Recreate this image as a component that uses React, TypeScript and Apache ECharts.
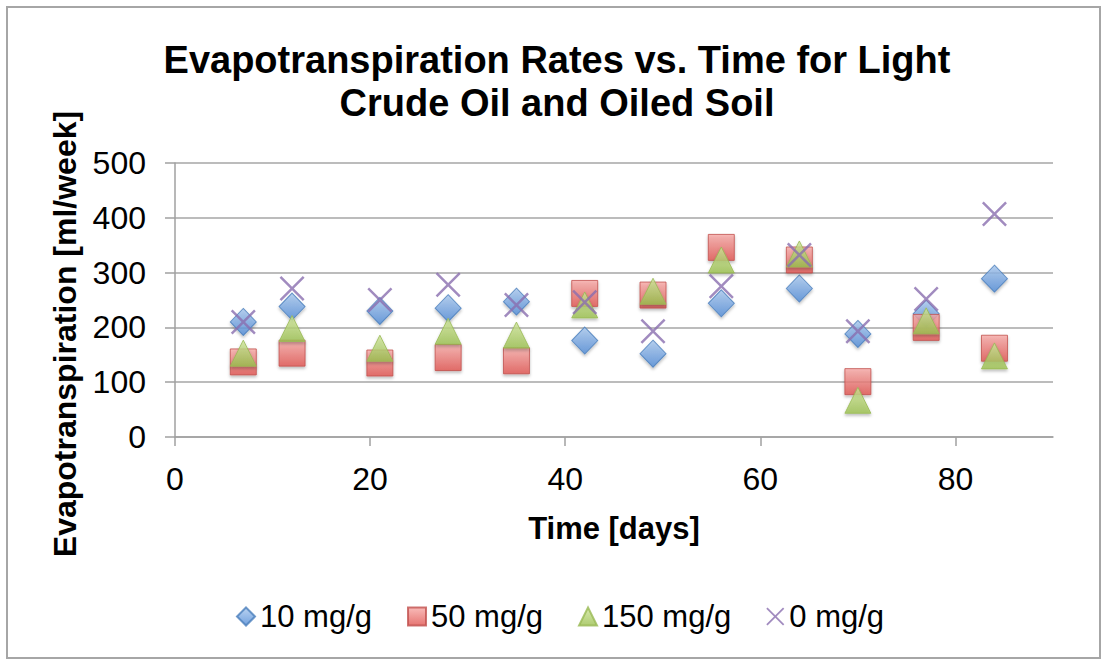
import React, { useEffect, useRef } from "react";
import * as echarts from "echarts";

const titleLines = ["Evapotranspiration Rates vs. Time for Light", "Crude Oil and Oiled Soil"];
const xName = "Time [days]";
const yName = "Evapotranspiration [ml/week]";
const seriesNames = ["10 mg/g", "50 mg/g", "150 mg/g", "0 mg/g"];
const days = [7, 12, 21, 28, 35, 42, 49, 56, 64, 70, 77, 84];
const s10 = [210, 238, 230, 235, 247, 176, 152, 244, 271, 188, 225, 289];
const s50 = [137, 153, 135, 145, 139, 262, 259, 346, 323, 101, 200, 162];
const s150 = [153, 198, 162, 193, 186, 241, 266, 323, 334, 67, 212, 148];
const s0 = [210, 271, 250, 278, 241, 246, 193, 275, 332, 193, 252, 407];

const FONT = "'Liberation Sans', Arial, Helvetica, sans-serif";
const XPATH =
  "path://M0,7 L7,0 L50,43 L93,0 L100,7 L57,50 L100,93 L93,100 L50,57 L7,100 L0,93 L43,50 Z";

const grad = (a: string, b: string) => ({
  type: "linear",
  x: 0,
  y: 0,
  x2: 0,
  y2: 1,
  colorStops: [
    { offset: 0, color: a },
    { offset: 1, color: b },
  ],
});

export default function App() {
  const ref = useRef<HTMLDivElement>(null);
  useEffect(() => {
    if (!ref.current) return;
    const chart = echarts.init(ref.current, undefined, { renderer: "svg" });
    const pair = (vals: number[]) => days.map((d, i) => [d, vals[i]]);
    const shadow = { shadowBlur: 3, shadowOffsetY: 2, shadowColor: "rgba(0,0,0,0.3)" };
    chart.setOption({
      animation: false,
      backgroundColor: "#fff",
      title: {
        text: titleLines.join("\n"),
        left: 557,
        textAlign: "center",
        top: 38,
        padding: 0,
        textStyle: { fontFamily: FONT, fontSize: 38, fontWeight: "bold", color: "#000", lineHeight: 43 },
      },
      graphic: [
        {
          type: "rect",
          shape: { x: 7, y: 7, width: 1093, height: 651 },
          style: { fill: "none", stroke: "#a6a6a6", lineWidth: 2 },
          silent: true,
        },
        {
          type: "text",
          x: 65,
          y: 334,
          rotation: Math.PI / 2,
          silent: true,
          style: {
            text: yName,
            fontFamily: FONT,
            fontSize: 32,
            fontWeight: "bold",
            fill: "#000",
            align: "center",
            verticalAlign: "middle",
          },
        },
      ],
      legend: {
        left: 231,
        top: 596,
        itemGap: 35,
        itemWidth: 18,
        itemHeight: 18,
        textStyle: { fontFamily: FONT, fontSize: 31, color: "#000" },
        data: seriesNames,
      },
      grid: { left: 175, right: 50, top: 163, bottom: 223, containLabel: false },
      xAxis: {
        type: "value",
        min: 0,
        max: 90,
        interval: 20,
        name: xName,
        nameLocation: "middle",
        nameGap: 76,
        nameTextStyle: { fontFamily: FONT, fontSize: 31, fontWeight: "bold", color: "#000" },
        axisLine: { show: true, lineStyle: { color: "#a0a0a0", width: 1.5 } },
        axisTick: { show: true, length: 9, lineStyle: { color: "#a0a0a0", width: 1.5 } },
        axisLabel: { fontFamily: FONT, fontSize: 32, color: "#000", margin: 26, showMaxLabel: false },
        splitLine: { show: false },
      },
      yAxis: {
        type: "value",
        min: 0,
        max: 500,
        interval: 100,
        axisLine: { show: true, lineStyle: { color: "#a0a0a0", width: 1.5 } },
        axisTick: { show: true, length: 10, lineStyle: { color: "#a0a0a0", width: 1.5 } },
        axisLabel: { fontFamily: FONT, fontSize: 32, color: "#000", margin: 29 },
        splitLine: { show: true, lineStyle: { color: "#a6a6a6", width: 1.5 } },
      },
      series: [
        {
          name: seriesNames[0],
          type: "scatter",
          symbol: "diamond",
          symbolSize: [26, 27],
          data: pair(s10),
          itemStyle: { color: grad("#a9c8ee", "#4f8ad6"), borderColor: "#4a7ebb", borderWidth: 1, ...shadow },
        },
        {
          name: seriesNames[1],
          type: "scatter",
          symbol: "rect",
          symbolSize: [26, 26],
          data: pair(s50),
          itemStyle: { color: grad("#f7aaa7", "#e0534f"), borderColor: "#c0504d", borderWidth: 1, ...shadow },
        },
        {
          name: seriesNames[2],
          type: "scatter",
          symbol: "triangle",
          symbolSize: [26, 26],
          data: pair(s150),
          itemStyle: { color: grad("#cfe59a", "#9bc04f"), borderColor: "#98b954", borderWidth: 1, ...shadow },
        },
        {
          name: seriesNames[3],
          type: "scatter",
          symbol: XPATH,
          symbolSize: [25, 25],
          data: pair(s0),
          itemStyle: { color: "#8a6eaf", borderWidth: 0 },
        },
      ],
    });
    return () => chart.dispose();
  }, []);
  return (
    <div
      ref={ref}
      style={{ position: "absolute", left: 0, top: 0, width: 1103, height: 660 }}
    />
  );
}
